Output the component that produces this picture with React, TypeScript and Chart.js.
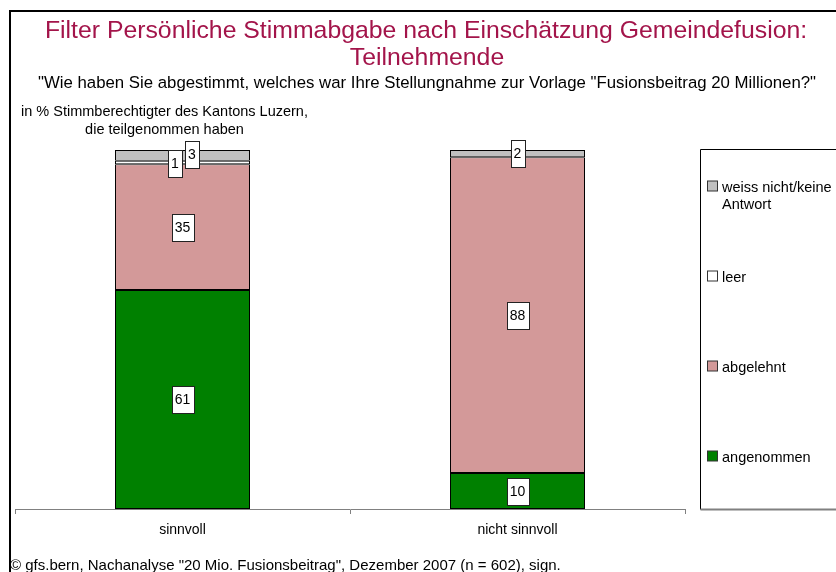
import React, { useEffect, useRef } from 'react';
import { Chart, registerables } from 'chart.js';

Chart.register(...registerables);

const categories = ['sinnvoll', 'nicht sinnvoll'];
const seriesNames = ['angenommen', 'abgelehnt', 'leer', 'weiss nicht/keine Antwort'];
const angenommen = [61, 10];
const abgelehnt = [35, 88];
const leer = [1, 0];
const weissNicht = [3, 2];
const seriesColors = ['#008000', '#D39999', '#FFFFFF', '#C0C0C0'];

const titleLines = ['Filter Persönliche Stimmabgabe nach Einschätzung Gemeindefusion:', 'Teilnehmende'];
const subtitle = '"Wie haben Sie abgestimmt, welches war Ihre Stellungnahme zur Vorlage "Fusionsbeitrag 20 Millionen?"';
const axisLabelLines = ['in % Stimmberechtigter des Kantons Luzern,', 'die teilgenommen haben'];
const footer = '© gfs.bern, Nachanalyse "20 Mio. Fusionsbeitrag", Dezember 2007 (n = 602), sign.';

const FONT = '"Liberation Sans", Arial, sans-serif';

// label nudges for crowded small segments: key "dataset-index"
const labelNudges: Record<string, [number, number]> = {
  '2-0': [-7.5, 0.5],
  '3-0': [9.5, -1],
};

const textPlugin = {
  id: 'texts',
  beforeDraw(chart: any) {
    const ctx = chart.ctx;
    ctx.save();
    ctx.fillStyle = '#FFFFFF';
    ctx.fillRect(0, 0, chart.width, chart.height);
    ctx.restore();
  },
  afterDraw(chart: any) {
    const ctx = chart.ctx;
    ctx.save();
    // frame
    ctx.strokeStyle = '#000';
    ctx.lineWidth = 2;
    ctx.beginPath();
    ctx.moveTo(10, chart.height);
    ctx.lineTo(10, 11);
    ctx.lineTo(chart.width, 11);
    ctx.stroke();

    ctx.textAlign = 'center';
    ctx.textBaseline = 'alphabetic';
    ctx.fillStyle = '#A3144A';
    ctx.font = `24.8px ${FONT}`;
    ctx.fillText(titleLines[0], 426, 37.5);
    ctx.fillText(titleLines[1], 427, 65);

    ctx.fillStyle = '#000';
    ctx.font = `16.8px ${FONT}`;
    ctx.fillText(subtitle, 427, 88);

    ctx.font = `14.5px ${FONT}`;
    ctx.fillText(axisLabelLines[0], 164.5, 116);
    ctx.fillText(axisLabelLines[1], 164.5, 134);

    ctx.textAlign = 'left';
    ctx.font = `15px ${FONT}`;
    ctx.fillText(footer, 10, 570);
    ctx.restore();
  },
};

const valueLabelPlugin = {
  id: 'valueLabels',
  afterDatasetsDraw(chart: any) {
    const ctx = chart.ctx;
    ctx.save();
    ctx.font = `14px ${FONT}`;
    ctx.textAlign = 'center';
    ctx.textBaseline = 'middle';
    chart.data.datasets.forEach((ds: any, di: number) => {
      const meta = chart.getDatasetMeta(di);
      meta.data.forEach((bar: any, i: number) => {
        const v = ds.data[i];
        if (!v) return;
        const nudge = labelNudges[`${di}-${i}`] || [0, 0];
        const cx = bar.x + nudge[0];
        const cy = (bar.y + bar.base) / 2 + nudge[1];
        const txt = String(v);
        const w = ctx.measureText(txt).width + 6;
        const h = 27;
        const x0 = Math.round(cx - w / 2) + 0.5;
        const y0 = Math.round(cy - h / 2) + 0.5;
        ctx.fillStyle = '#FFFFFF';
        ctx.fillRect(x0, y0, Math.round(w), h);
        ctx.strokeStyle = '#222';
        ctx.lineWidth = 1;
        ctx.strokeRect(x0, y0, Math.round(w), h);
        ctx.fillStyle = '#000';
        ctx.fillText(txt, cx, cy + 1);
      });
    });
    ctx.restore();
  },
};

const legendPlugin = {
  id: 'sideLegend',
  afterDraw(chart: any) {
    const ctx = chart.ctx;
    const left = 700.5;
    const top = 149.5;
    const bottom = 509.5;
    ctx.save();
    ctx.strokeStyle = '#000';
    ctx.lineWidth = 1;
    ctx.beginPath();
    ctx.moveTo(chart.width, top);
    ctx.lineTo(left, top);
    ctx.lineTo(left, bottom);
    ctx.stroke();
    ctx.strokeStyle = '#808080';
    ctx.lineWidth = 2;
    ctx.beginPath();
    ctx.moveTo(left, bottom);
    ctx.lineTo(chart.width, bottom);
    ctx.stroke();

    const slot = (bottom - top) / 4;
    const items = chart.data.datasets.map((d: any) => d).reverse();
    ctx.font = `14.5px ${FONT}`;
    ctx.textBaseline = 'middle';
    ctx.textAlign = 'left';
    items.forEach((ds: any, k: number) => {
      const y = top + 37 + k * slot;
      ctx.fillStyle = ds.backgroundColor;
      ctx.fillRect(707.5, y - 5.5, 10, 10);
      ctx.strokeStyle = '#333';
      ctx.lineWidth = 1;
      ctx.strokeRect(707.5, y - 5.5, 10, 10);
      // wrap text
      const words = String(ds.label).split(' ');
      const lines: string[] = [];
      let cur = '';
      words.forEach((wd) => {
        const test = cur ? cur + ' ' + wd : wd;
        if (ctx.measureText(test).width > 125 && cur) {
          lines.push(cur);
          cur = wd;
        } else cur = test;
      });
      if (cur) lines.push(cur);
      ctx.fillStyle = '#000';
      lines.forEach((ln, li) => ctx.fillText(ln, 722, y + 1 + li * 17));
    });
    ctx.restore();
  },
};

export default function App() {
  const ref = useRef<HTMLCanvasElement>(null);
  useEffect(() => {
    if (!ref.current) return;
    const seriesData = [angenommen, abgelehnt, leer, weissNicht];
    const chart = new Chart(ref.current, {
      type: 'bar',
      data: {
        labels: categories,
        datasets: seriesNames.map((name, i) => ({
          label: name,
          data: seriesData[i],
          backgroundColor: seriesColors[i],
          borderColor: '#000',
          borderWidth: 1,
          borderSkipped: false,
          inflateAmount: 0,
          barPercentage: 0.403,
          categoryPercentage: 1,
        })),
      },
      options: {
        responsive: false,
        animation: false,
        devicePixelRatio: 1,
        layout: { padding: { left: 15, right: 151, top: 150, bottom: 0 } },
        plugins: {
          legend: { display: false },
          title: { display: false },
          tooltip: { enabled: false },
        },
        scales: {
          x: {
            stacked: true,
            offset: true,
            grid: {
              display: true,
              drawOnChartArea: false,
              drawTicks: true,
              tickLength: 5,
              color: '#808080',
              offset: true,
            },
            border: { display: true, color: '#808080', width: 1 },
            ticks: { font: { family: FONT, size: 14 }, color: '#000', padding: 8 },
            afterFit: (s: any) => {
              s.height = 63;
            },
          },
          y: {
            stacked: true,
            display: false,
            min: 0,
            max: 100,
          },
        },
      },
      plugins: [textPlugin, valueLabelPlugin, legendPlugin],
    });
    return () => chart.destroy();
  }, []);
  return (
    <div style={{ position: 'fixed', left: 0, top: 0, width: 836, height: 572, background: '#fff' }}>
      <canvas ref={ref} width={836} height={572} style={{ display: 'block' }} />
    </div>
  );
}
